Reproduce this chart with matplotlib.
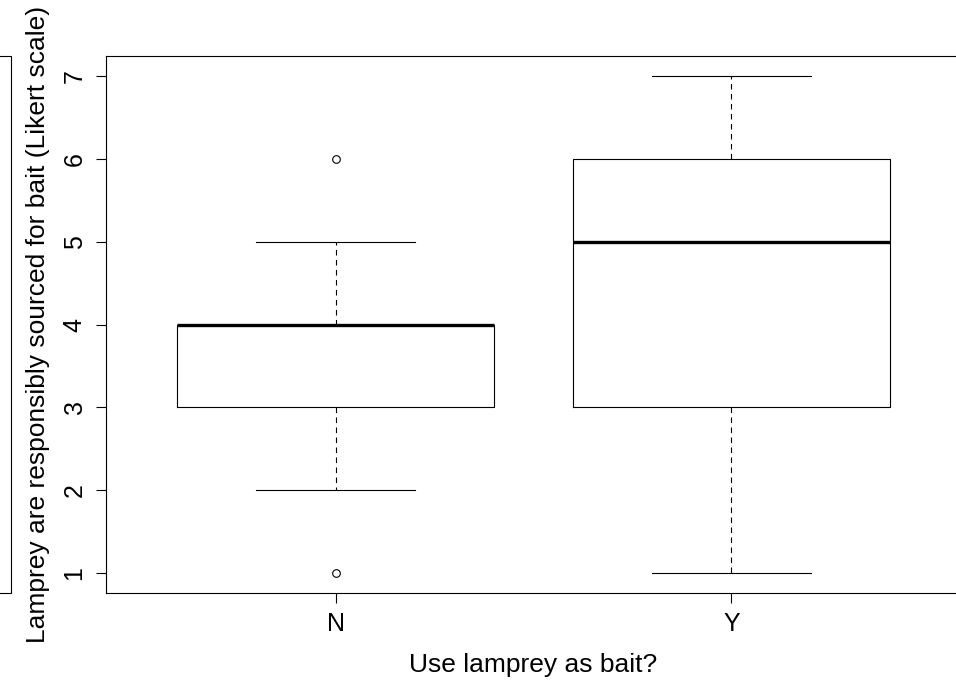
"""R-style boxplot: lamprey responsibly sourced (Likert) by bait use."""

import matplotlib.pyplot as plt
from matplotlib.patches import Rectangle

plt.rcParams["font.family"] = ["Liberation Sans", "DejaVu Sans"]

GROUPS = ["N", "Y"]
WHISK_LO = [2, 1]
Q1 = [3, 3]
MEDIAN = [4, 5]
Q3 = [4, 6]
WHISK_HI = [5, 7]
FLIERS = [[1, 6], []]
Y_TICKS = [1, 2, 3, 4, 5, 6, 7]

stats = [
    dict(label=g, whislo=lo, q1=a, med=m, q3=b, whishi=hi, fliers=f)
    for g, lo, a, m, b, hi, f in zip(GROUPS, WHISK_LO, Q1, MEDIAN, Q3, WHISK_HI, FLIERS)
]

fig = plt.figure(figsize=(9.56, 6.83), dpi=100)
W, H = 956, 683
ax = fig.add_axes([106 / W, (H - 593) / H, 855 / W, 537 / H])

lw = 0.8
ax.bxp(stats, positions=[1, 2], widths=0.8, showfliers=True, patch_artist=False,
       boxprops=dict(color="black", lw=lw),
       medianprops=dict(color="black", lw=2.4, solid_capstyle="butt"),
       whiskerprops=dict(color="black", lw=lw, ls=(0, (5, 4))),
       capprops=dict(color="black", lw=lw),
       capwidths=0.4,
       flierprops=dict(marker="o", markerfacecolor="white", markeredgecolor="black",
                       markersize=5.5, markeredgewidth=0.8))

ax.set_xlim(0.42, 2.58)
ax.set_ylim(0.76, 7.24)
ax.set_yticks(Y_TICKS)
ax.set_yticklabels([str(v) for v in Y_TICKS], rotation=90, va="center")
ax.tick_params(axis="both", direction="out", length=7, width=lw, labelsize=18, pad=7)
for s in ax.spines.values():
    s.set_linewidth(lw)

ax.set_xlabel("Use lamprey as bait?", fontsize=19, labelpad=12)
ax.set_ylabel("Lamprey are responsibly sourced for bait (Likert scale)", fontsize=19,
              labelpad=9)

# edge of the neighbouring panel, cut off at the left of the image
fig.add_artist(Rectangle((-20 / W, (H - 593) / H), 31 / W, 537 / H,
                         transform=fig.transFigure, fill=False, lw=lw, ec="black"))

fig.savefig("out.png", dpi=100)
